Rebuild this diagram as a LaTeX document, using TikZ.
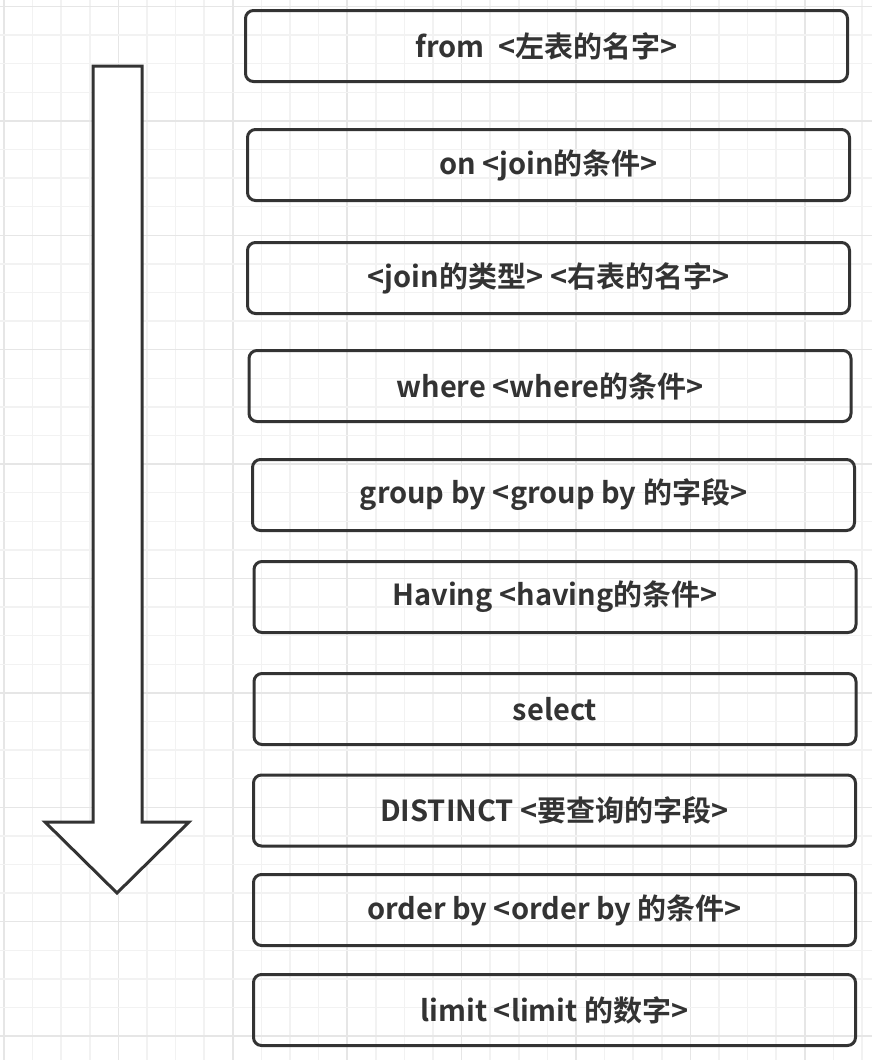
\documentclass[tikz,border=0pt]{standalone}
\usepackage{fontspec}
\newfontfamily\cjk{Noto Sans CJK SC}[BoldFont={Noto Sans CJK SC Bold}]
\definecolor{ink}{HTML}{333333}
\definecolor{gridminor}{HTML}{F2F2F2}
\definecolor{gridmajor}{HTML}{E6E6E6}
\begin{document}
\begin{tikzpicture}[
			x=1pt, y=-1pt,
			stage/.style={rectangle, draw=ink, line width=3pt, rounded corners=8pt,
				minimum width=602pt, minimum height=71pt, inner sep=0pt,
				text=ink, font=\cjk\bfseries\fontsize{29}{33}\selectfont},
			flow/.style={draw=ink, line width=3pt, fill=white, line join=miter}
		]
		\useasboundingbox (0,0) rectangle (872,1060);
		\fill[white] (0,0) rectangle (872,1060);

		% Grid
		\foreach \i in {0,...,30} {
			\pgfmathparse{mod(\i,4)==0 ? "gridmajor" : "gridminor"}
			\draw[\pgfmathresult, line width=1.5pt] (4+28.6*\i,0) -- (4+28.6*\i,1060);
		}
		\foreach \j in {0,...,36} {
			\pgfmathparse{mod(\j,4)==0 ? "gridmajor" : "gridminor"}
			\draw[\pgfmathresult, line width=1.5pt] (0,6.5+28.6*\j) -- (872,6.5+28.6*\j);
		}

		% Order arrow
		\draw[flow] (93,66) -- (142,66) -- (142,822) -- (189,822) -- (117,893)
			-- (45,822) -- (93,822) -- cycle;

		% Stages
		\node[stage] (from) at (546.5,46) {from \ <左表的名字>};
		\node[stage] (on) at (548.5,165) {on <join的条件>};
		\node[stage] (join) at (548.5,278) {<join的类型> <右表的名字>};
		\node[stage] (where) at (550,386) {where <where的条件>};
		\node[stage] (group) at (553.5,495) {group by <group by 的字段>};
		\node[stage] (having) at (555,597) {Having <having的条件>};
		\node[stage] (select) at (555,709) {select};
		\node[stage] (distinct) at (554.5,810.5) {DISTINCT <要查询的字段>};
		\node[stage] (order) at (554.5,910) {order by <order by 的条件>};
		\node[stage] (limit) at (554.5,1010) {limit <limit 的数字>};

	\end{tikzpicture}
\end{document}
